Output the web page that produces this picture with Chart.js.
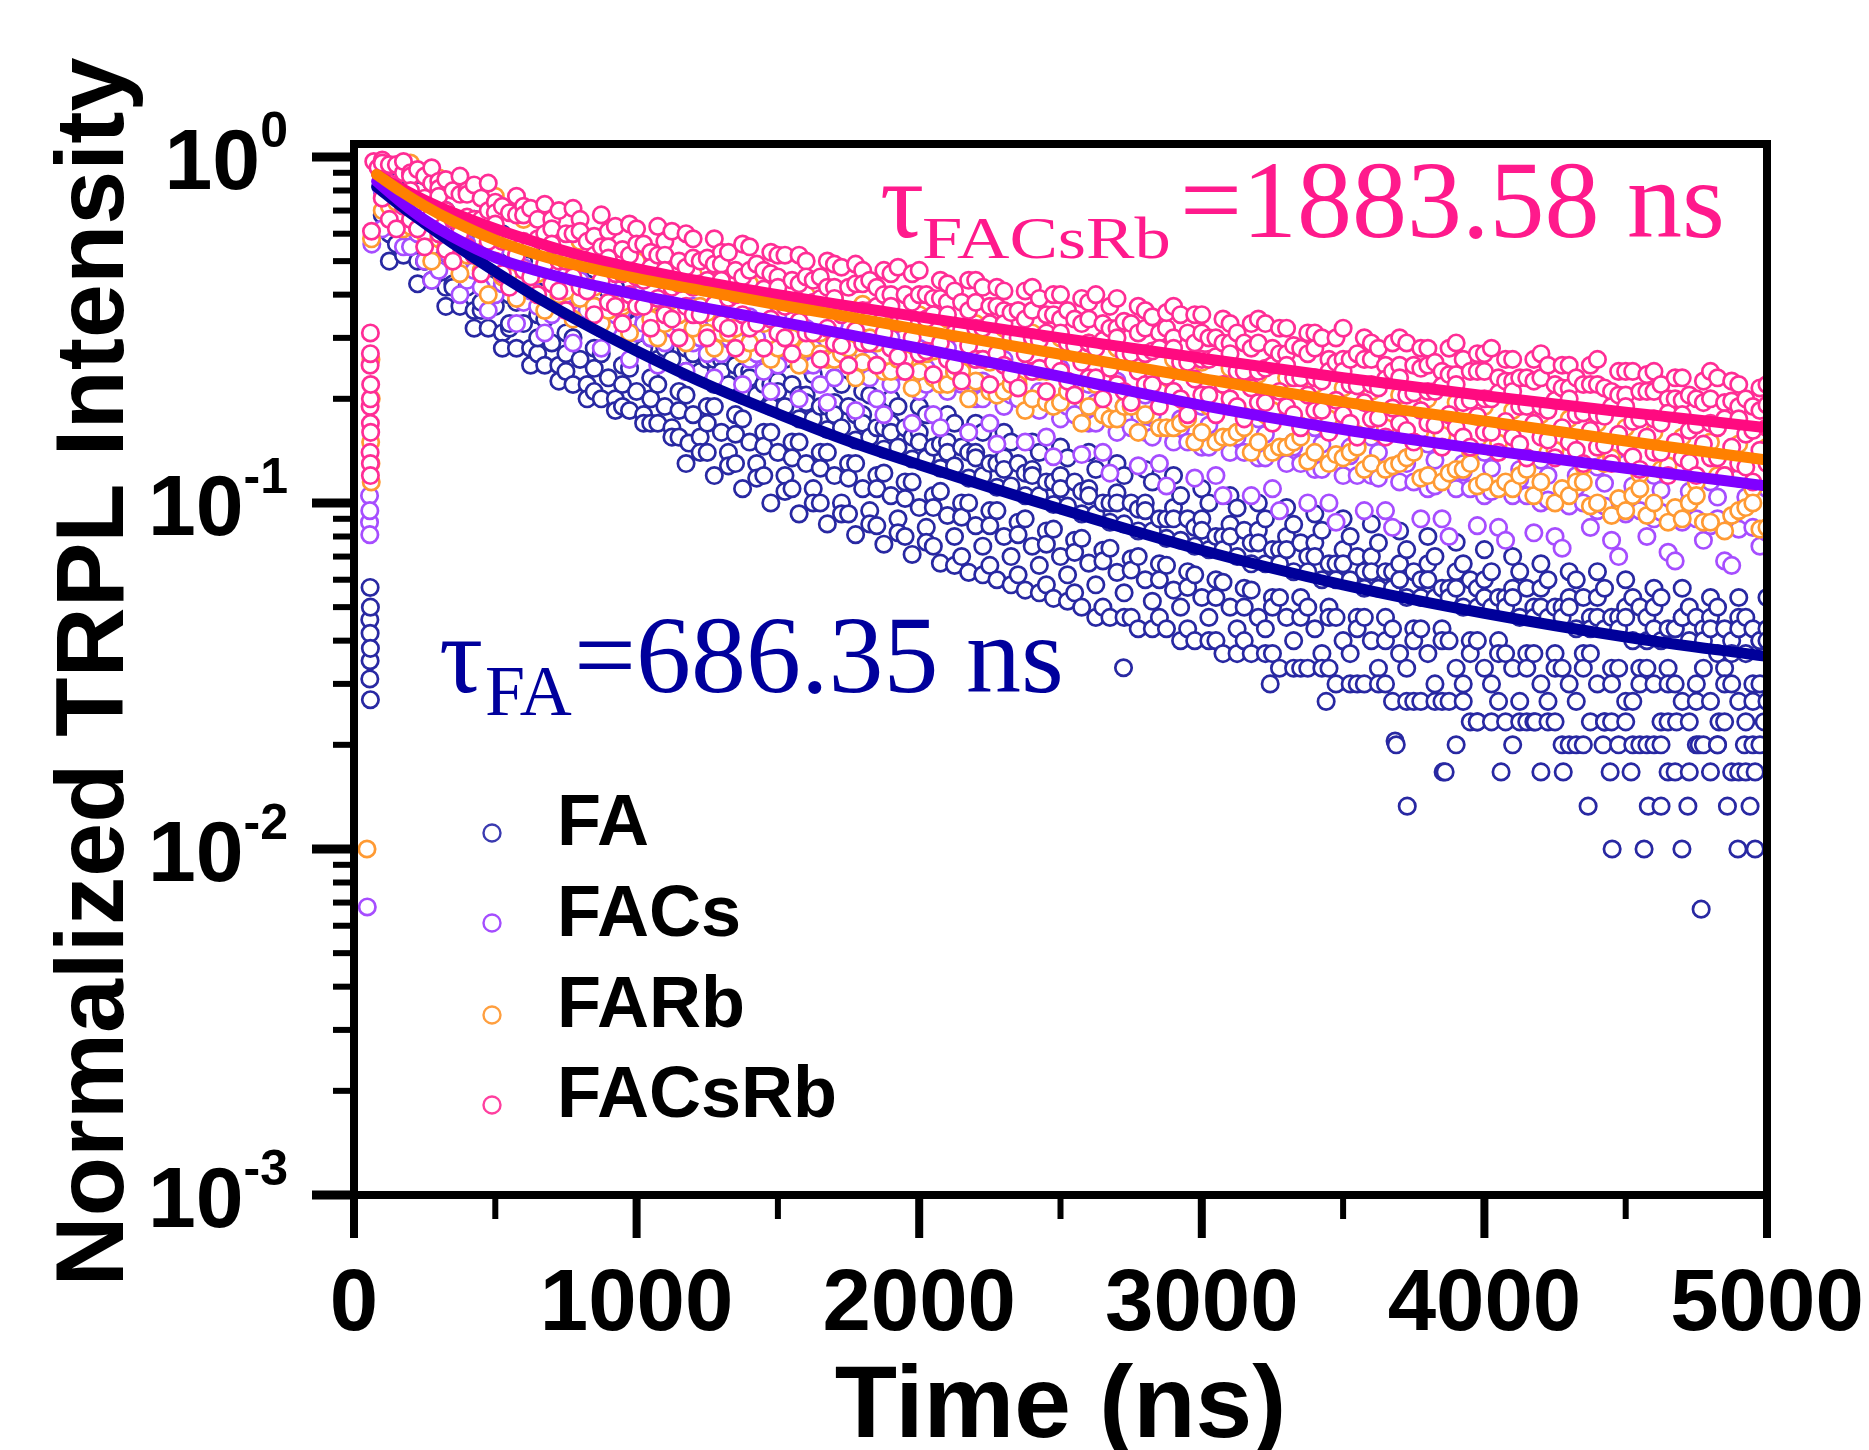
<!DOCTYPE html>
<html>
<head>
<meta charset="utf-8">
<script src="https://cdn.jsdelivr.net/npm/chart.js@4.4.1/dist/chart.umd.min.js"></script>
<style>
  html, body { margin: 0; padding: 0; background: #fff; }
  #wrap { width: 1869px; height: 1450px; }
</style>
</head>
<body>
<div id="wrap"><canvas id="myChart" width="1869" height="1450"></canvas></div>
<script>
// time grids (ns)
const tA = [100, 200, 300, 400, 500, 600, 700, 800, 900, 1000,
  1100, 1200, 1300, 1400, 1500, 1600, 1700, 1800, 1900, 2000,
  2100, 2200, 2300, 2400, 2500, 2600, 2700, 2800, 2900, 3000,
  3100, 3200, 3300, 3400, 3500, 3600, 3700, 3800, 3900, 4000,
  4100, 4200, 4300, 4400, 4500, 4600, 4700, 4800, 4900, 5000];
const tB = [150, 250, 350, 450, 550, 650, 750, 850, 950, 1050,
  1150, 1250, 1350, 1450, 1550, 1650, 1750, 1850, 1950, 2050,
  2150, 2250, 2350, 2450, 2550, 2650, 2750, 2850, 2950, 3050,
  3150, 3250, 3350, 3450, 3550, 3650, 3750, 3850, 3950, 4050,
  4150, 4250, 4350, 4450, 4550, 4650, 4750, 4850, 4950];
const tC = [125, 225, 325, 425, 525, 625, 725, 825, 925, 1025,
  1125, 1225, 1325, 1425, 1525, 1625, 1725, 1825, 1925, 2025,
  2125, 2225, 2325, 2425, 2525, 2625, 2725, 2825, 2925, 3025,
  3125, 3225, 3325, 3425, 3525, 3625, 3725, 3825, 3925, 4025,
  4125, 4225, 4325, 4425, 4525, 4625, 4725, 4825, 4925];
const tD = [175, 275, 375, 475, 575, 675, 775, 875, 975, 1075,
  1175, 1275, 1375, 1475, 1575, 1675, 1775, 1875, 1975, 2075,
  2175, 2275, 2375, 2475, 2575, 2675, 2775, 2875, 2975, 3075,
  3175, 3275, 3375, 3475, 3575, 3675, 3775, 3875, 3975, 4075,
  4175, 4275, 4375, 4475, 4575, 4675, 4775, 4875, 4975];
const fitT = [80, 170, 250, 350, 500, 650, 800, 1000, 1250, 1500, 1750, 2000, 2500, 3000, 3500, 4000, 4500, 5000];

// FACsRb
const pinkRiseT = [58, 58, 57, 59, 58, 57, 58, 59, 57, 58, 58, 62, 70, 85];
const pinkRise = [0.31, 0.27, 0.25, 0.22, 0.20, 0.19, 0.17, 0.16, 0.14, 0.13, 0.12, 0.61, 0.97, 0.93];
const pinkHi = [0.98, 0.90, 0.85, 0.80, 0.74, 0.72, 0.66, 0.66, 0.61, 0.62,
  0.57, 0.58, 0.53, 0.55, 0.52, 0.50, 0.49, 0.47, 0.46, 0.47,
  0.43, 0.44, 0.41, 0.42, 0.40, 0.38, 0.39, 0.36, 0.37, 0.35,
  0.33, 0.34, 0.32, 0.31, 0.32, 0.29, 0.30, 0.28, 0.29, 0.27,
  0.26, 0.27, 0.25, 0.26, 0.24, 0.24, 0.23, 0.24, 0.22, 0.22];
const pinkHi5 = [0.96, 0.88, 0.81, 0.78, 0.69, 0.68, 0.62, 0.61, 0.55, 0.56,
  0.52, 0.51, 0.49, 0.47, 0.45, 0.45, 0.42, 0.43, 0.40, 0.40,
  0.38, 0.38, 0.36, 0.36, 0.34, 0.34, 0.32, 0.32, 0.30, 0.31,
  0.29, 0.29, 0.27, 0.28, 0.26, 0.26, 0.25, 0.25, 0.235, 0.24,
  0.225, 0.23, 0.215, 0.22, 0.205, 0.21, 0.198, 0.20, 0.19, 0.192];
const pinkMid = [0.86, 0.80, 0.77, 0.67, 0.64, 0.57, 0.56, 0.50, 0.51, 0.45,
  0.47, 0.42, 0.44, 0.40, 0.42, 0.37, 0.39, 0.36, 0.37, 0.33,
  0.35, 0.32, 0.33, 0.30, 0.31, 0.29, 0.30, 0.27, 0.28, 0.26,
  0.27, 0.24, 0.25, 0.23, 0.24, 0.22, 0.23, 0.21, 0.22, 0.20,
  0.21, 0.19, 0.20, 0.18, 0.19, 0.175, 0.18, 0.17, 0.175, 0.165];
const pinkLo = [0.76, 0.66, 0.60, 0.55, 0.50, 0.47, 0.43, 0.42, 0.38, 0.37,
  0.35, 0.35, 0.33, 0.32, 0.31, 0.31, 0.29, 0.29, 0.28, 0.27,
  0.26, 0.26, 0.25, 0.24, 0.24, 0.23, 0.22, 0.22, 0.21, 0.205,
  0.20, 0.195, 0.19, 0.185, 0.18, 0.175, 0.17, 0.17, 0.165, 0.16,
  0.155, 0.155, 0.15, 0.145, 0.145, 0.14, 0.135, 0.135, 0.13, 0.13];
const pinkHi2 = [0.95, 0.88, 0.80, 0.76, 0.69, 0.66, 0.60, 0.59, 0.54, 0.53,
  0.50, 0.51, 0.47, 0.47, 0.44, 0.45, 0.42, 0.42, 0.40, 0.39,
  0.38, 0.37, 0.36, 0.35, 0.34, 0.33, 0.33, 0.31, 0.31, 0.30,
  0.29, 0.28, 0.28, 0.26, 0.27, 0.25, 0.25, 0.24, 0.24, 0.23,
  0.23, 0.22, 0.22, 0.21, 0.21, 0.20, 0.20, 0.195, 0.19];
const pinkMid5 = [0.80, 0.76, 0.66, 0.66, 0.57, 0.58, 0.50, 0.52, 0.46, 0.48,
  0.43, 0.44, 0.40, 0.415, 0.375, 0.39, 0.355, 0.37, 0.335, 0.35,
  0.315, 0.33, 0.30, 0.31, 0.285, 0.295, 0.27, 0.28, 0.255, 0.265,
  0.24, 0.25, 0.23, 0.24, 0.218, 0.228, 0.208, 0.218, 0.198, 0.208,
  0.19, 0.198, 0.182, 0.19, 0.175, 0.182, 0.168, 0.175, 0.162];
const pinkLo2 = [0.62, 0.55, 0.50, 0.46, 0.42, 0.40, 0.36, 0.35, 0.33, 0.32,
  0.30, 0.30, 0.28, 0.28, 0.27, 0.26, 0.25, 0.25, 0.24, 0.235,
  0.225, 0.22, 0.215, 0.21, 0.205, 0.20, 0.195, 0.19, 0.18, 0.18,
  0.175, 0.17, 0.165, 0.16, 0.155, 0.155, 0.15, 0.145, 0.145, 0.14,
  0.135, 0.135, 0.13, 0.13, 0.125, 0.12, 0.12, 0.12, 0.115];
const pinkHi3 = [0.95, 0.92, 0.86, 0.83, 0.72, 0.71, 0.70, 0.57, 0.63, 0.56,
  0.61, 0.50, 0.53, 0.49, 0.52, 0.44, 0.48, 0.44, 0.48, 0.40,
  0.41, 0.42, 0.355, 0.39, 0.36, 0.40, 0.335, 0.345, 0.35, 0.30,
  0.31, 0.33, 0.285, 0.30, 0.26, 0.28, 0.29, 0.255, 0.26, 0.28,
  0.23, 0.25, 0.23, 0.215, 0.24, 0.22, 0.205, 0.23, 0.20];
const pinkMid3 = [0.84, 0.74, 0.70, 0.66, 0.57, 0.56, 0.50, 0.50, 0.46, 0.44,
  0.42, 0.43, 0.39, 0.40, 0.37, 0.38, 0.35, 0.36, 0.33, 0.34,
  0.31, 0.32, 0.30, 0.295, 0.29, 0.28, 0.27, 0.275, 0.255, 0.26,
  0.24, 0.245, 0.23, 0.225, 0.22, 0.215, 0.205, 0.21, 0.195, 0.20,
  0.19, 0.185, 0.18, 0.178, 0.172, 0.17, 0.162, 0.165, 0.158];
const pinkLo5 = [0.66, 0.62, 0.54, 0.52, 0.46, 0.45, 0.41, 0.41, 0.37, 0.37,
  0.34, 0.35, 0.32, 0.33, 0.30, 0.31, 0.285, 0.29, 0.265, 0.275,
  0.25, 0.26, 0.235, 0.245, 0.225, 0.23, 0.21, 0.22, 0.20, 0.205,
  0.19, 0.195, 0.18, 0.185, 0.17, 0.176, 0.162, 0.168, 0.155, 0.16,
  0.148, 0.152, 0.142, 0.147, 0.136, 0.14, 0.131, 0.135, 0.127];
const pinkUp4 = [0.90, 0.84, 0.78, 0.70, 0.68, 0.60, 0.60, 0.55, 0.52, 0.52,
  0.48, 0.49, 0.45, 0.46, 0.43, 0.42, 0.43, 0.40, 0.38, 0.39,
  0.36, 0.37, 0.34, 0.35, 0.33, 0.32, 0.31, 0.32, 0.29, 0.29,
  0.28, 0.27, 0.27, 0.255, 0.26, 0.24, 0.245, 0.235, 0.24, 0.225,
  0.225, 0.215, 0.22, 0.205, 0.21, 0.20, 0.195, 0.197, 0.185];
const pinkTop5 = [0.97, 0.93, 0.88, 0.84, 0.77, 0.73, 0.71, 0.68, 0.64, 0.63,
  0.60, 0.58, 0.56, 0.53, 0.52, 0.50, 0.49, 0.47, 0.46, 0.44,
  0.44, 0.42, 0.41, 0.40, 0.39, 0.37, 0.37, 0.355, 0.35, 0.34,
  0.33, 0.32, 0.31, 0.30, 0.30, 0.29, 0.28, 0.28, 0.27, 0.26,
  0.26, 0.25, 0.25, 0.24, 0.235, 0.23, 0.225, 0.225, 0.215];
const pinkLo4 = [0.72, 0.68, 0.60, 0.57, 0.52, 0.49, 0.45, 0.44, 0.40, 0.39,
  0.37, 0.375, 0.35, 0.34, 0.335, 0.32, 0.315, 0.31, 0.30, 0.29,
  0.285, 0.27, 0.27, 0.255, 0.255, 0.245, 0.24, 0.232, 0.228, 0.22,
  0.215, 0.21, 0.205, 0.198, 0.195, 0.188, 0.185, 0.18, 0.178, 0.172,
  0.17, 0.165, 0.162, 0.158, 0.155, 0.15, 0.148, 0.145, 0.142];
const pinkFit = [0.89, 0.81, 0.75, 0.69, 0.62, 0.565, 0.52, 0.476, 0.434, 0.40, 0.371, 0.345, 0.30, 0.262, 0.23, 0.204, 0.183, 0.165];

// FARb
const orangeRiseT = [60, 61, 59, 60, 61, 46, 62];
const orangeRise = [0.26, 0.20, 0.15, 0.13, 0.115, 0.01, 0.58];
const orangeHi = [0.95, 0.96, 0.87, 0.80, 0.77, 0.66, 0.60, 0.57, 0.53, 0.50,
  0.49, 0.46, 0.45, 0.43, 0.42, 0.40, 0.39, 0.375, 0.36, 0.35,
  0.34, 0.33, 0.32, 0.31, 0.30, 0.29, 0.28, 0.27, 0.26, 0.255,
  0.245, 0.235, 0.23, 0.22, 0.215, 0.21, 0.205, 0.20, 0.195, 0.19,
  0.185, 0.18, 0.175, 0.17, 0.165, 0.16, 0.155, 0.15, 0.148, 0.145];
const orangeLo = [0.70, 0.63, 0.58, 0.52, 0.48, 0.44, 0.40, 0.39, 0.36, 0.37,
  0.33, 0.32, 0.31, 0.29, 0.28, 0.28, 0.26, 0.255, 0.24, 0.24,
  0.22, 0.225, 0.21, 0.20, 0.195, 0.19, 0.175, 0.18, 0.165, 0.16,
  0.155, 0.15, 0.145, 0.14, 0.135, 0.13, 0.13, 0.12, 0.125, 0.115,
  0.11, 0.115, 0.105, 0.10, 0.095, 0.10, 0.09, 0.088, 0.095, 0.085];
const orangeLo2 = [0.66, 0.60, 0.50, 0.47, 0.45, 0.40, 0.41, 0.37, 0.38, 0.34,
  0.35, 0.31, 0.32, 0.28, 0.30, 0.27, 0.28, 0.25, 0.26, 0.23,
  0.24, 0.21, 0.22, 0.195, 0.205, 0.18, 0.19, 0.165, 0.175, 0.15,
  0.165, 0.14, 0.155, 0.13, 0.145, 0.125, 0.14, 0.115, 0.13, 0.11,
  0.125, 0.10, 0.115, 0.092, 0.11, 0.088, 0.105, 0.083, 0.10];
const orangeMid5 = [0.74, 0.63, 0.55, 0.53, 0.46, 0.46, 0.41, 0.42, 0.37, 0.38,
  0.35, 0.355, 0.32, 0.33, 0.30, 0.31, 0.28, 0.29, 0.265, 0.275,
  0.245, 0.255, 0.23, 0.24, 0.215, 0.225, 0.20, 0.21, 0.19, 0.20,
  0.178, 0.185, 0.167, 0.175, 0.158, 0.165, 0.15, 0.157, 0.142, 0.149,
  0.135, 0.142, 0.128, 0.135, 0.121, 0.128, 0.115, 0.12, 0.11];
const orangeLo3 = [0.72, 0.62, 0.55, 0.52, 0.45, 0.46, 0.40, 0.42, 0.37, 0.38,
  0.35, 0.37, 0.31, 0.33, 0.30, 0.31, 0.27, 0.30, 0.26, 0.27,
  0.24, 0.26, 0.22, 0.24, 0.21, 0.22, 0.19, 0.21, 0.17, 0.19,
  0.16, 0.18, 0.15, 0.17, 0.14, 0.16, 0.135, 0.155, 0.125, 0.145,
  0.12, 0.14, 0.115, 0.13, 0.105, 0.125, 0.10, 0.12, 0.097];
const orangeLo4 = [0.62, 0.50, 0.46, 0.40, 0.39, 0.36, 0.34, 0.33, 0.31, 0.30,
  0.29, 0.28, 0.27, 0.26, 0.25, 0.26, 0.23, 0.24, 0.215, 0.22,
  0.20, 0.205, 0.185, 0.19, 0.17, 0.175, 0.16, 0.165, 0.15, 0.155,
  0.14, 0.145, 0.132, 0.138, 0.125, 0.128, 0.118, 0.122, 0.112, 0.115,
  0.105, 0.11, 0.098, 0.103, 0.092, 0.097, 0.088, 0.092, 0.084];
const orangeFit = [0.89, 0.792, 0.722, 0.653, 0.575, 0.522, 0.484, 0.446, 0.408, 0.374, 0.345, 0.317, 0.269, 0.229, 0.196, 0.1725, 0.151, 0.133];

// FACs
const violetRiseT = [55, 56, 55, 56, 47, 63];
const violetRise = [0.105, 0.095, 0.088, 0.081, 0.0068, 0.56];
const violetMid = [0.80, 0.68, 0.64, 0.56, 0.54, 0.48, 0.48, 0.44, 0.44, 0.40,
  0.40, 0.37, 0.37, 0.345, 0.35, 0.32, 0.33, 0.30, 0.30, 0.28,
  0.28, 0.26, 0.26, 0.24, 0.245, 0.22, 0.225, 0.205, 0.21, 0.19,
  0.19, 0.175, 0.18, 0.165, 0.17, 0.155, 0.16, 0.148, 0.152, 0.14,
  0.145, 0.133, 0.138, 0.127, 0.13, 0.12, 0.125, 0.115, 0.118, 0.11];
const violetMid5 = [0.72, 0.62, 0.53, 0.50, 0.43, 0.42, 0.38, 0.38, 0.35, 0.35,
  0.32, 0.32, 0.30, 0.30, 0.28, 0.28, 0.26, 0.26, 0.24, 0.245,
  0.225, 0.225, 0.205, 0.21, 0.19, 0.195, 0.175, 0.18, 0.165, 0.168,
  0.155, 0.158, 0.145, 0.148, 0.137, 0.14, 0.13, 0.133, 0.123, 0.126,
  0.117, 0.12, 0.111, 0.114, 0.106, 0.109, 0.101, 0.104, 0.098];
const violetLo = [0.62, 0.55, 0.47, 0.44, 0.40, 0.38, 0.35, 0.35, 0.32, 0.31,
  0.29, 0.29, 0.27, 0.26, 0.25, 0.25, 0.23, 0.235, 0.22, 0.21,
  0.21, 0.20, 0.19, 0.19, 0.175, 0.17, 0.16, 0.16, 0.15, 0.145,
  0.14, 0.135, 0.13, 0.125, 0.12, 0.12, 0.115, 0.11, 0.11, 0.105,
  0.105, 0.10, 0.098, 0.095, 0.093, 0.09, 0.088, 0.086, 0.084, 0.082];
const violetLo2 = [0.68, 0.50, 0.52, 0.42, 0.45, 0.37, 0.40, 0.33, 0.36, 0.30,
  0.33, 0.27, 0.30, 0.24, 0.28, 0.22, 0.26, 0.20, 0.24, 0.18,
  0.22, 0.17, 0.20, 0.155, 0.18, 0.14, 0.165, 0.13, 0.15, 0.12,
  0.14, 0.11, 0.13, 0.10, 0.12, 0.095, 0.115, 0.09, 0.11, 0.085,
  0.105, 0.08, 0.10, 0.078, 0.095, 0.072, 0.09, 0.068, 0.085];
const violetLo3 = [0.70, 0.60, 0.56, 0.47, 0.46, 0.41, 0.42, 0.36, 0.38, 0.33,
  0.34, 0.30, 0.32, 0.27, 0.30, 0.25, 0.28, 0.23, 0.26, 0.22,
  0.24, 0.20, 0.22, 0.185, 0.21, 0.17, 0.19, 0.155, 0.175, 0.145,
  0.16, 0.135, 0.15, 0.125, 0.145, 0.118, 0.135, 0.112, 0.13, 0.108,
  0.125, 0.102, 0.12, 0.098, 0.112, 0.094, 0.108, 0.09, 0.104];
const violetLo4 = [0.55, 0.44, 0.40, 0.36, 0.33, 0.31, 0.29, 0.28, 0.26, 0.25,
  0.24, 0.23, 0.22, 0.21, 0.20, 0.195, 0.185, 0.18, 0.17, 0.165,
  0.16, 0.148, 0.15, 0.136, 0.138, 0.122, 0.128, 0.112, 0.118, 0.105,
  0.105, 0.095, 0.10, 0.088, 0.095, 0.085, 0.09, 0.08, 0.086, 0.078,
  0.082, 0.074, 0.085, 0.07, 0.08, 0.068, 0.078, 0.066, 0.075];
const violetFit = [0.85, 0.736, 0.658, 0.587, 0.512, 0.468, 0.4345, 0.40, 0.365, 0.335, 0.3065, 0.28, 0.232, 0.1915, 0.163, 0.1426, 0.126, 0.112];

// FA
const faRiseT = [57, 58, 56, 57, 58, 57, 56, 58];
const faRise = [0.057, 0.05, 0.046, 0.042, 0.038, 0.035, 0.031, 0.027];
const faHi = [0.88, 0.78, 0.70, 0.64, 0.58, 0.53, 0.50, 0.45, 0.41, 0.38,
  0.36, 0.33, 0.31, 0.29, 0.27, 0.25, 0.23, 0.21, 0.20, 0.19,
  0.18, 0.17, 0.16, 0.15, 0.145, 0.14, 0.13, 0.125, 0.12, 0.11,
  0.105, 0.10, 0.097, 0.093, 0.09, 0.087, 0.083, 0.08, 0.077, 0.0733,
  0.07, 0.0667, 0.0633, 0.0633, 0.06, 0.0567, 0.0567, 0.0533, 0.0533, 0.0533];
const faUp5 = [0.90, 0.82, 0.72, 0.63, 0.57, 0.50, 0.45, 0.41, 0.37, 0.33,
  0.31, 0.28, 0.26, 0.24, 0.225, 0.205, 0.195, 0.18, 0.17, 0.16,
  0.15, 0.14, 0.135, 0.125, 0.12, 0.11, 0.107, 0.10, 0.097, 0.09,
  0.0867, 0.0833, 0.08, 0.0767, 0.0733, 0.07, 0.0667, 0.0667, 0.0633, 0.06,
  0.0567, 0.0567, 0.0533, 0.0533, 0.05, 0.05, 0.0467, 0.0467, 0.0467, 0.0433];
const faMid = [0.80, 0.70, 0.62, 0.56, 0.50, 0.45, 0.41, 0.37, 0.33, 0.31,
  0.28, 0.27, 0.24, 0.23, 0.21, 0.195, 0.18, 0.17, 0.16, 0.15,
  0.14, 0.135, 0.125, 0.12, 0.11, 0.105, 0.10, 0.095, 0.09, 0.0833,
  0.08, 0.0767, 0.0733, 0.07, 0.0667, 0.0633, 0.06, 0.06, 0.0567, 0.0533,
  0.0533, 0.05, 0.05, 0.0467, 0.0467, 0.0433, 0.0467, 0.0433, 0.0433, 0.04];
const faLo = [0.68, 0.58, 0.48, 0.42, 0.37, 0.33, 0.29, 0.26, 0.23, 0.21,
  0.19, 0.18, 0.16, 0.15, 0.14, 0.13, 0.12, 0.11, 0.105, 0.097,
  0.092, 0.086, 0.08, 0.075, 0.07, 0.067, 0.063, 0.06, 0.056, 0.0533,
  0.05, 0.0467, 0.0467, 0.0433, 0.04, 0.04, 0.0367, 0.0367, 0.0333, 0.0333,
  0.0333, 0.03, 0.03, 0.03, 0.0267, 0.03, 0.0267, 0.0267, 0.0267, 0.0267];
const faHi2 = [0.85, 0.72, 0.66, 0.58, 0.54, 0.46, 0.43, 0.37, 0.35, 0.30,
  0.30, 0.26, 0.25, 0.22, 0.22, 0.19, 0.19, 0.165, 0.165, 0.145,
  0.145, 0.13, 0.13, 0.115, 0.115, 0.10, 0.10, 0.09, 0.09, 0.08,
  0.0833, 0.0733, 0.0767, 0.0667, 0.07, 0.0633, 0.0633, 0.0567, 0.06, 0.0533,
  0.0567, 0.05, 0.0533, 0.0467, 0.05, 0.0433, 0.0467, 0.0433, 0.0433];
const faMid2 = [0.68, 0.58, 0.52, 0.44, 0.40, 0.35, 0.31, 0.28, 0.25, 0.23,
  0.21, 0.19, 0.18, 0.16, 0.15, 0.14, 0.13, 0.12, 0.115, 0.105,
  0.10, 0.095, 0.088, 0.083, 0.078, 0.073, 0.069, 0.0667, 0.0633, 0.06,
  0.0567, 0.0533, 0.0533, 0.05, 0.0467, 0.0467, 0.0433, 0.0433, 0.04, 0.04,
  0.0367, 0.0367, 0.0367, 0.0333, 0.0333, 0.0333, 0.03, 0.0333, 0.03];
const faLo2 = [0.62, 0.50, 0.43, 0.36, 0.32, 0.27, 0.24, 0.21, 0.19, 0.17,
  0.155, 0.14, 0.13, 0.12, 0.11, 0.10, 0.093, 0.086, 0.08, 0.075,
  0.07, 0.066, 0.062, 0.058, 0.055, 0.05, 0.0467, 0.0467, 0.0433, 0.04,
  0.04, 0.0367, 0.0333, 0.0333, 0.03, 0.03, 0.0267, 0.0267, 0.0233, 0.0267,
  0.0233, 0.0233, 0.02, 0.0233, 0.02, 0.0233, 0.02, 0.0233, 0.02];
const faLo6 = [0.56, 0.50, 0.42, 0.38, 0.33, 0.30, 0.27, 0.245, 0.22, 0.20,
  0.185, 0.17, 0.158, 0.146, 0.135, 0.126, 0.118, 0.11, 0.103, 0.097,
  0.091, 0.086, 0.081, 0.076, 0.072, 0.068, 0.064, 0.06, 0.057, 0.0533,
  0.05, 0.05, 0.0467, 0.0467, 0.0433, 0.04, 0.04, 0.04, 0.0367, 0.0367,
  0.0333, 0.0333, 0.0333, 0.03, 0.03, 0.03, 0.0267, 0.03, 0.0267];
const faHi3 = [0.86, 0.80, 0.70, 0.66, 0.60, 0.54, 0.50, 0.43, 0.42, 0.37,
  0.34, 0.32, 0.30, 0.27, 0.26, 0.235, 0.22, 0.205, 0.19, 0.18,
  0.17, 0.16, 0.15, 0.14, 0.135, 0.125, 0.12, 0.115, 0.105, 0.10,
  0.0967, 0.09, 0.0867, 0.0833, 0.08, 0.0767, 0.0733, 0.07, 0.0667, 0.0633,
  0.0633, 0.06, 0.06, 0.0567, 0.0533, 0.0533, 0.05, 0.05, 0.0467];
const faMid3 = [0.78, 0.66, 0.60, 0.52, 0.47, 0.43, 0.38, 0.34, 0.31, 0.28,
  0.26, 0.24, 0.22, 0.205, 0.19, 0.175, 0.165, 0.155, 0.145, 0.135,
  0.128, 0.12, 0.112, 0.105, 0.098, 0.093, 0.087, 0.083, 0.078, 0.0733,
  0.07, 0.0667, 0.0633, 0.06, 0.06, 0.0567, 0.0533, 0.0533, 0.05, 0.05,
  0.0467, 0.0467, 0.0433, 0.0433, 0.04, 0.04, 0.04, 0.0367, 0.0367];
const faLo3 = [0.60, 0.50, 0.42, 0.36, 0.31, 0.28, 0.25, 0.22, 0.20, 0.18,
  0.165, 0.155, 0.14, 0.13, 0.12, 0.11, 0.10, 0.095, 0.09, 0.085,
  0.08, 0.075, 0.07, 0.066, 0.062, 0.058, 0.055, 0.052, 0.05, 0.0467,
  0.0433, 0.0433, 0.04, 0.0367, 0.0367, 0.0333, 0.0333, 0.03, 0.03, 0.03,
  0.0267, 0.0267, 0.0267, 0.0233, 0.0267, 0.0233, 0.0233, 0.02, 0.0233];
const faLo7 = [0.50, 0.43, 0.37, 0.32, 0.28, 0.25, 0.225, 0.20, 0.185, 0.17,
  0.155, 0.14, 0.128, 0.118, 0.108, 0.10, 0.093, 0.087, 0.082, 0.077,
  0.066, 0.062, 0.058, 0.055, 0.052, 0.0467, 0.0467, 0.0433, 0.04, 0.04,
  0.0367, 0.0367, 0.0333, 0.0333, 0.03, 0.03, 0.0267, 0.0267, 0.0267, 0.0233,
  0.0233, 0.0233, 0.02, 0.0233, 0.02, 0.02, 0.0167, 0.02, 0.0167];
const faHi4 = [0.82, 0.74, 0.64, 0.56, 0.51, 0.45, 0.40, 0.36, 0.33, 0.30,
  0.28, 0.26, 0.24, 0.22, 0.205, 0.19, 0.18, 0.165, 0.155, 0.148,
  0.14, 0.13, 0.122, 0.115, 0.108, 0.10, 0.096, 0.09, 0.085, 0.08,
  0.0767, 0.0733, 0.07, 0.0667, 0.0633, 0.0633, 0.06, 0.0567, 0.0567, 0.0533,
  0.05, 0.05, 0.0467, 0.0467, 0.0467, 0.0433, 0.0433, 0.04, 0.04];
const faMid6 = [0.72, 0.63, 0.55, 0.49, 0.44, 0.39, 0.35, 0.32, 0.29, 0.26,
  0.24, 0.22, 0.205, 0.19, 0.175, 0.163, 0.152, 0.143, 0.134, 0.126,
  0.118, 0.111, 0.105, 0.099, 0.093, 0.088, 0.083, 0.079, 0.075, 0.0733,
  0.0667, 0.0667, 0.0633, 0.06, 0.0567, 0.0567, 0.0533, 0.0533, 0.05, 0.05,
  0.0467, 0.0467, 0.0433, 0.0433, 0.04, 0.0433, 0.04, 0.0367, 0.04];
const faLo4 = [0.64, 0.55, 0.48, 0.43, 0.38, 0.34, 0.30, 0.27, 0.245, 0.22,
  0.205, 0.19, 0.175, 0.16, 0.15, 0.14, 0.13, 0.122, 0.115, 0.108,
  0.10, 0.095, 0.09, 0.084, 0.079, 0.074, 0.07, 0.066, 0.062, 0.059,
  0.056, 0.0533, 0.05, 0.0467, 0.0467, 0.0433, 0.0433, 0.04, 0.04, 0.0367,
  0.0367, 0.0333, 0.0367, 0.0333, 0.0333, 0.03, 0.0333, 0.03, 0.03];
const faLo5 = [0.52, 0.44, 0.37, 0.32, 0.28, 0.25, 0.22, 0.20, 0.185, 0.17,
  0.13, 0.12, 0.11, 0.10, 0.093, 0.087, 0.081, 0.076, 0.071, 0.067,
  0.063, 0.06, 0.056, 0.053, 0.05, 0.0467, 0.0433, 0.0433, 0.04, 0.0367,
  0.0367, 0.0333, 0.0333, 0.03, 0.03, 0.0267, 0.0267, 0.0267, 0.0233, 0.0233,
  0.0233, 0.02, 0.0233, 0.02, 0.02, 0.0167, 0.02, 0.0167, 0.02];
const faRowT = [3688, 3900, 3975, 4100, 4180, 4300, 4420, 4500, 4600, 4680, 4760, 4830, 4920, 4990];
const faRow = [0.02, 0.02, 0.0233, 0.02, 0.0233, 0.02, 0.02, 0.0233, 0.02, 0.0233, 0.02, 0.0233, 0.02, 0.0233];
const faOutT = [1185, 2723, 3242, 3440, 3684, 3727, 3861, 3854, 4059, 4200,
  4279, 4367, 4445, 4452, 4519, 4565, 4580, 4625, 4650, 4699,
  4720, 4767, 4800, 4860, 4897, 4900, 4940, 4958, 4958];
const faOut = [0.149, 0.0334, 0.030, 0.0267, 0.0205, 0.0133, 0.0167, 0.0167, 0.0167, 0.0167,
  0.0167, 0.0133, 0.0167, 0.01, 0.0167, 0.01, 0.0133, 0.0133, 0.0167, 0.01,
  0.0133, 0.0067, 0.0167, 0.0133, 0.01, 0.0167, 0.0133, 0.01, 0.0167];
const faFit = [0.82, 0.717, 0.643, 0.562, 0.466, 0.392, 0.334, 0.275, 0.22, 0.181, 0.151, 0.129, 0.096, 0.073, 0.058, 0.048, 0.041, 0.036];

// axes
const xMajor = [0, 1000, 2000, 3000, 4000, 5000];
const xLabels = ["0", "1000", "2000", "3000", "4000", "5000"];
const xMinor = [500, 1500, 2500, 3500, 4500];
const yMajor = [1, 0.1, 0.01, 0.001];
const yExp = ["0", "-1", "-2", "-3"];
const yMinor = [0.002, 0.003, 0.004, 0.005, 0.006, 0.007, 0.008, 0.009,
  0.02, 0.03, 0.04, 0.05, 0.06, 0.07, 0.08, 0.09,
  0.2, 0.3, 0.4, 0.5, 0.6, 0.7, 0.8, 0.9];

const legendNames = ["FA", "FACs", "FARb", "FACsRb"];
const legendColors = ["#3a3ab0", "#a44dff", "#ff9f3f", "#ff3f9f"];

const pts = (ts, vs) => vs.map((v, i) => ({ x: ts[i], y: v }));
const byX = (a, b) => a.x - b.x;

const faData = [].concat(pts(faRiseT, faRise),
  pts(tA, faHi), pts(tA, faUp5), pts(tB, faHi2), pts(tC, faHi3), pts(tD, faHi4),
  pts(tA, faMid), pts(tB, faMid2), pts(tC, faMid3), pts(tD, faMid6),
  pts(tA, faLo), pts(tB, faLo2), pts(tB, faLo6), pts(tC, faLo3), pts(tC, faLo7),
  pts(tD, faLo4), pts(tD, faLo5),
  pts(faRowT, faRow), pts(faOutT, faOut)).sort(byX);
const violetData = [].concat(pts(violetRiseT, violetRise), pts(tA, violetMid), pts(tC, violetMid5),
  pts(tA, violetLo), pts(tB, violetLo2), pts(tC, violetLo3), pts(tD, violetLo4)).sort(byX);
const orangeData = [].concat(pts(orangeRiseT, orangeRise), pts(tA, orangeHi), pts(tB, orangeMid5),
  pts(tA, orangeLo), pts(tB, orangeLo2), pts(tC, orangeLo3), pts(tD, orangeLo4)).sort(byX);
const pinkData = [].concat(pts(pinkRiseT, pinkRise),
  pts(tA, pinkHi), pts(tA, pinkHi5), pts(tB, pinkHi2), pts(tC, pinkHi3), pts(tD, pinkUp4), pts(tD, pinkTop5),
  pts(tA, pinkMid), pts(tB, pinkMid5), pts(tC, pinkMid3),
  pts(tA, pinkLo), pts(tB, pinkLo2), pts(tC, pinkLo5), pts(tD, pinkLo4)).sort(byX);

function scatterSet(label, data, color, order) {
  return {
    type: "scatter", label, data, order,
    radius: 8.2, pointRadius: 8.2, pointHoverRadius: 8.2, pointBorderWidth: 2.7,
    pointBorderColor: color, pointBackgroundColor: "#ffffff",
  };
}
function fitSet(label, values, color, order) {
  return {
    type: "line", label, data: pts(fitT, values), order,
    borderColor: color, borderWidth: 11, pointRadius: 0, fill: false,
    cubicInterpolationMode: "monotone", borderCapStyle: "round",
  };
}

const SANS = '"Liberation Sans", Arial, sans-serif';
const SERIF = '"Liberation Serif", "Times New Roman", serif';

const decor = {
  id: "decor",
  afterDatasetsDraw(chart) {
    const { ctx, chartArea: a, scales: { x, y } } = chart;
    ctx.save();
    ctx.strokeStyle = "#000";
    ctx.fillStyle = "#000";
    const seg = (x1, y1, x2, y2, w) => {
      ctx.lineWidth = w;
      ctx.beginPath(); ctx.moveTo(x1, y1); ctx.lineTo(x2, y2); ctx.stroke();
    };
    xMinor.forEach(v => { const p = x.getPixelForValue(v); seg(p, a.bottom, p, a.bottom + 24, 6); });
    xMajor.forEach(v => { const p = x.getPixelForValue(v); seg(p, a.bottom, p, a.bottom + 43, 8); });
    yMinor.forEach(v => { const p = y.getPixelForValue(v); seg(a.left, p, a.left - 21, p, 6); });
    yMajor.forEach(v => { const p = y.getPixelForValue(v); seg(a.left, p, a.left - 42, p, 9); });
    ctx.lineWidth = 8;
    ctx.strokeRect(a.left, a.top, a.right - a.left, a.bottom - a.top);

    // tick labels
    ctx.textBaseline = "alphabetic";
    ctx.textAlign = "center";
    ctx.font = "bold 87px " + SANS;
    xMajor.forEach((v, i) => ctx.fillText(xLabels[i], x.getPixelForValue(v), 1330));
    ctx.textAlign = "left";
    yMajor.forEach((v, i) => {
      const p = y.getPixelForValue(v);
      ctx.font = "bold 86px " + SANS;
      const wb = ctx.measureText("10").width;
      ctx.font = "bold 50px " + SANS;
      const ws = ctx.measureText(yExp[i]).width;
      const x0 = 288 - wb - ws;
      ctx.font = "bold 86px " + SANS;
      ctx.fillText("10", x0, p + 32);
      ctx.font = "bold 50px " + SANS;
      ctx.fillText(yExp[i], x0 + wb, p - 10);
    });

    // axis titles
    ctx.font = "bold 102px " + SANS;
    ctx.textAlign = "center";
    ctx.fillText("Time (ns)", (a.left + a.right) / 2, 1437);
    ctx.save();
    ctx.translate(123, 672);
    ctx.rotate(-Math.PI / 2);
    ctx.font = "bold 97px " + SANS;
    ctx.fillText("Normalized TRPL Intensity", 0, 0);
    ctx.restore();

    // lifetime notes
    ctx.textAlign = "left";
    ctx.fillStyle = "#ff1a8c";
    ctx.font = "110px " + SERIF;
    ctx.fillText("\u03C4", 880, 237);
    ctx.fillText("=1883.58 ns", 1180, 237);
    ctx.save();
    ctx.translate(922, 258);
    ctx.scale(1.21, 1);
    ctx.font = "60px " + SERIF;
    ctx.fillText("FACsRb", 0, 0);
    ctx.restore();

    ctx.fillStyle = "#00009c";
    ctx.font = "110px " + SERIF;
    ctx.fillText("\u03C4", 439, 692);
    ctx.fillText("=686.35 ns", 574, 692);
    ctx.font = "72px " + SERIF;
    ctx.fillText("FA", 485, 715);

    // legend
    const rowsY = [833, 923, 1015, 1105];
    const baseY = [845, 936, 1027, 1117];
    legendNames.forEach((name, i) => {
      ctx.beginPath();
      ctx.arc(492, rowsY[i], 8.5, 0, Math.PI * 2);
      ctx.fillStyle = "#fff";
      ctx.fill();
      ctx.lineWidth = 2.4;
      ctx.strokeStyle = legendColors[i];
      ctx.stroke();
      ctx.fillStyle = "#000";
      ctx.font = "bold 72px " + SANS;
      ctx.fillText(name, 557, baseY[i]);
    });
    ctx.restore();
  },
};

const config = {
  type: "scatter",
  data: {
    datasets: [
      fitSet("FACsRb fit", pinkFit, "#ff0a80", 1),
      fitSet("FARb fit", orangeFit, "#ff8000", 0),
      fitSet("FACs fit", violetFit, "#8000ff", 2),
      fitSet("FA fit", faFit, "#00009a", 3),
      scatterSet("FACsRb", pinkData, "#ff2d95", 10),
      scatterSet("FARb", orangeData, "#ff9a33", 11),
      scatterSet("FACs", violetData, "#a64dff", 12),
      scatterSet("FA", faData, "#2828a2", 13),
    ],
  },
  options: {
    responsive: false,
    animation: false,
    elements: { point: { radius: 8.2, hoverRadius: 8.2, borderWidth: 2.7 } },
    layout: { padding: { left: 354, right: 102, top: 144, bottom: 255 } },
    plugins: { legend: { display: false }, tooltip: { enabled: false } },
    scales: {
      x: { type: "linear", min: 0, max: 5000, display: false },
      y: { type: "logarithmic", min: 0.001, max: 1.09, display: false },
    },
  },
  plugins: [decor],
};

const myChart = new Chart(document.getElementById("myChart"), config);
</script>
</body>
</html>
